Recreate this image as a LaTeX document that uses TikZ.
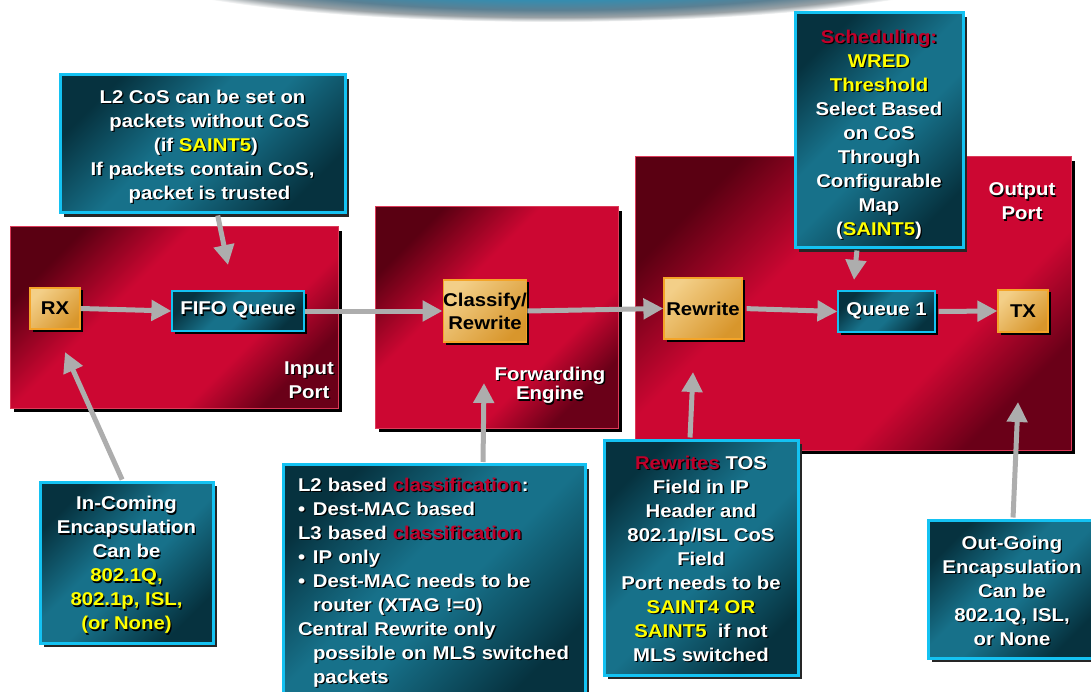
\documentclass[tikz,border=0pt]{standalone}
\usepackage{fontspec}
\setmainfont{Liberation Sans}[FakeStretch=1.1]
\usetikzlibrary{arrows.meta,shadows}

\definecolor{portdark}{HTML}{5A0012}
\definecolor{portdarkb}{HTML}{6A0018}
\definecolor{portmid}{HTML}{CC0732}
\definecolor{portedge}{HTML}{DC3A58}
\definecolor{calldark}{HTML}{06323F}
\definecolor{callmid}{HTML}{17718A}
\definecolor{callrim}{HTML}{14C2F2}
\definecolor{orangelt}{HTML}{F3CF88}
\definecolor{orangedk}{HTML}{D8962C}
\definecolor{orangerim}{HTML}{F4A428}
\definecolor{arrowgray}{HTML}{ADADAD}
\definecolor{hiyellow}{HTML}{FFFF00}
\definecolor{hired}{HTML}{C0002A}
\definecolor{bannerin}{HTML}{2E8FB5}
\definecolor{bannermid}{HTML}{5B8093}
\definecolor{bannergray}{HTML}{9AA2A6}

% diagonal glow of the port boxes
\pgfdeclareverticalshading{portshade}{100bp}{color(0bp)=(portdarkb); color(25bp)=(portdarkb);
  color(36bp)=(portmid); color(60bp)=(portmid); color(75bp)=(portdark); color(100bp)=(portdark)}
\pgfdeclareverticalshading{callshade}{100bp}{color(0bp)=(calldark); color(25bp)=(calldark);
  color(46bp)=(callmid); color(56bp)=(callmid); color(75bp)=(calldark); color(100bp)=(calldark)}
% soft band across the top edge
\pgfdeclareradialshading{bannerglow}{\pgfpointorigin}{color(0bp)=(bannerin); color(15bp)=(bannerin);
  color(20bp)=(bannermid); color(23bp)=(bannergray); color(25bp)=(white); color(50bp)=(white)}

% text with a dark drop shadow
\newif\ifshd
\newcommand\sh[1]{\leavevmode\rlap{\shdtrue\color{black}\kern1.3pt\raisebox{-1.3pt}{#1}}#1}
\newcommand\Y[1]{{\ifshd\else\color{hiyellow}\fi#1}}
\newcommand\R[1]{{\ifshd\else\color{hired}\fi#1}}
\newcommand\bul{\makebox[15pt][l]{\textbullet}}
\newcommand\fnt{\fontsize{18.5}{24}\selectfont\bfseries}
% extra head room above the first line of a note
\newcommand\lead[1]{\rule{0pt}{#1}}

\begin{document}
\begin{tikzpicture}[x=1pt,y=-1pt,
  port/.style={draw=portedge, line width=1pt, shading=portshade, shading angle=45,
    general shadow={fill=black, shadow xshift=4pt, shadow yshift=-4pt},
    inner sep=0pt},
  portlabel/.style={text=white, align=center, font=\fnt, inner sep=0pt},
  callout/.style={draw=callrim, line width=3pt, shading=callshade, shading angle=45,
    general shadow={fill=black!85, shadow xshift=4pt, shadow yshift=-4pt},
    text=white, align=center, font=\fnt, inner sep=0pt},
  obox/.style={draw=orangerim, line width=1.2pt, top color=orangelt, bottom color=orangedk,
    shading angle=45, general shadow={fill=black, shadow xshift=2.5pt, shadow yshift=-2.5pt},
    text=black, align=center, font=\fnt, inner sep=0pt},
  tbox/.style={draw=callrim, line width=1.2pt, shading=callshade, shading angle=45,
    general shadow={fill=black, shadow xshift=3pt, shadow yshift=-3pt},
    text=white, align=center, font=\fnt, inner sep=0pt},
  flow/.style={draw=arrowgray, line width=5pt, -{Triangle[length=20pt,width=20pt]}},
]
\useasboundingbox (0,0) rectangle (1091,692);
\clip (0,0) rectangle (1091,692);
\fill[white] (0,0) rectangle (1091,692);

% band along the top edge
\shade[shading=bannerglow] (552,-38) ellipse [x radius=440, y radius=60];

% port regions
\node[port, minimum width=328, minimum height=181] (inport) at (174,317.5) {};
\node[port, minimum width=243, minimum height=221] (fwd) at (496.5,317.5) {};
\node[port, minimum width=436, minimum height=293] (outport) at (853,303.5) {};

\node[portlabel] (inlabel) at (309,381) {\sh{Input}\\\sh{Port}};
\node[portlabel, font=\fontsize{18.5}{18}\selectfont\bfseries] (fwdlabel) at (550,386)
  {\sh{Forwarding}\\\sh{Engine}};
\node[portlabel] (outlabel) at (1022,202) {\sh{Output}\\\sh{Port}};

% pipeline stages
\node[obox, minimum width=50, minimum height=41] (rx) at (55,308.5) {RX};
\node[tbox, minimum width=132, minimum height=40] (fifo) at (238,311) {\sh{FIFO Queue}};
\node[obox, minimum width=82, minimum height=62, font=\fontsize{18.5}{23}\selectfont\bfseries]
  (classify) at (485,311) {Classify/\\Rewrite};
\node[obox, minimum width=78, minimum height=61] (rewrite) at (703,308.5) {Rewrite};
\node[tbox, minimum width=97, minimum height=41] (queue) at (886.5,311.5) {\sh{Queue 1}};
\node[obox, minimum width=50, minimum height=42] (tx) at (1023,311) {TX};

% notes
\node[callout, minimum width=285, minimum height=138] (l2cos) at (202.5,144)
  {\lead{20pt}\sh{L2 CoS can be set on}\\
   \hspace*{14pt}\sh{packets without CoS}\\
   \hspace*{7pt}\sh{(if \Y{SAINT5})}\\
   \sh{If packets contain CoS,}\\
   \hspace*{14pt}\sh{packet is trusted}};

\node[callout, minimum width=168, minimum height=235] (sched) at (879,130.5)
  {\lead{23pt}\sh{\R{Scheduling:}}\\\sh{\Y{WRED}}\\\sh{\Y{Threshold}}\\\sh{Select Based}\\
   \sh{on CoS}\\\sh{Through}\\\sh{Configurable}\\\sh{Map}\\\sh{(\Y{SAINT5})}};

\node[callout, minimum width=173, minimum height=161] (incoming) at (126.5,562.5)
  {\lead{20pt}\sh{In-Coming}\\\sh{Encapsulation}\\\sh{Can be}\\\sh{\Y{802.1Q,}}\\
   \sh{\Y{802.1p, ISL,}}\\\sh{\Y{(or None)}}};

\node[callout, anchor=north, text width=272, align=left, inner xsep=15pt, inner ysep=12pt]
  (l2class) at (434,463)
  {\lead{15pt}\sh{L2 based \R{classification}:}\\
   \sh{\bul Dest-MAC based}\\
   \sh{L3 based \R{classification}}\\
   \sh{\bul IP only}\\
   \sh{\bul Dest-MAC needs to be}\\
   \hspace*{15pt}\sh{router (XTAG !=0)}\\
   \sh{Central Rewrite only}\\
   \hspace*{15pt}\sh{possible on MLS switched}\\
   \hspace*{15pt}\sh{packets}};

\node[callout, minimum width=194, minimum height=235] (rewrites) at (701,557.5)
  {\lead{17pt}\sh{\R{Rewrites} TOS}\\\sh{Field in IP}\\\sh{Header and}\\\sh{802.1p/ISL CoS}\\
   \sh{Field}\\\sh{Port needs to be}\\\sh{\Y{SAINT4 OR}}\\\sh{\Y{SAINT5}\ \ if not}\\
   \sh{MLS switched}};

\node[callout, minimum width=168, minimum height=138] (outgoing) at (1012,589)
  {\lead{18pt}\sh{Out-Going}\\\sh{Encapsulation}\\\sh{Can be}\\\sh{802.1Q, ISL,}\\\sh{or None}};

% pointer targets
\coordinate (fifotop) at (228,265);
\coordinate (rxbelow) at (65,352);
\coordinate (fwdbelow) at (484,383);
\coordinate (rwbelow) at (693,372);
\coordinate (queuetop) at (854,280);
\coordinate (txbelow) at (1018,402);

% data path
\draw[flow] (rx.east) -- (fifo.west);
\draw[flow] (fifo.east) -- (classify.west);
\draw[flow] (classify.east) -- (rewrite.west);
\draw[flow, shorten <=4pt] (rewrite.east) -- (queue.west);
\draw[flow, shorten <=3pt] (queue.east) -- (tx.west);

% note pointers
\draw[flow, shorten <=1pt] ([xshift=15pt]l2cos.south) -- (fifotop);
\draw[flow, shorten <=1pt] ([xshift=-4pt]incoming.north) -- (rxbelow);
\draw[flow, shorten <=1pt] ([xshift=49pt]l2class.north) -- (fwdbelow);
\draw[flow, shorten <=1pt] ([xshift=-11pt]rewrites.north) -- (rwbelow);
\draw[flow, shorten <=1pt] ([xshift=-22pt]sched.south) -- (queuetop);
\draw[flow, shorten <=1pt] ([xshift=1pt]outgoing.north) -- (txbelow);
\end{tikzpicture}
\end{document}
